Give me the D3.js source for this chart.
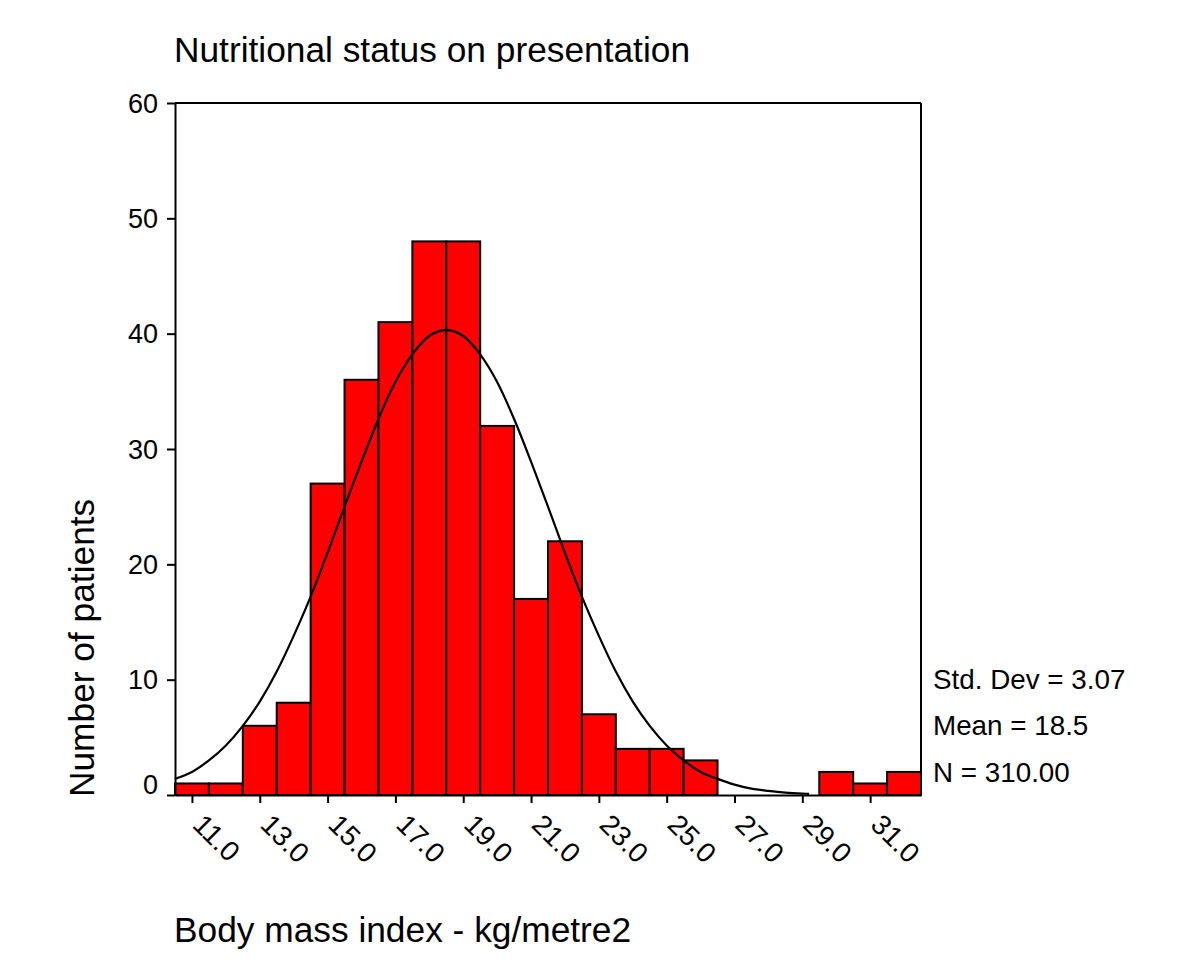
<!DOCTYPE html>
<html>
<head>
<meta charset="utf-8">
<script src="https://cdn.jsdelivr.net/npm/d3@7"></script>
<style>
  html, body { margin: 0; padding: 0; background: #fff; }
  svg { display: block; }
  text { font-family: "Liberation Sans", Arial, Helvetica, sans-serif; fill: #000; }
</style>
</head>
<body>
<svg id="chart" width="1200" height="960"></svg>
<script>
// ---- Data ----
const binStarts = [10.5, 11.5, 12.5, 13.5, 14.5, 15.5, 16.5, 17.5, 18.5, 19.5, 20.5,
                   21.5, 22.5, 23.5, 24.5, 25.5, 26.5, 27.5, 28.5, 29.5, 30.5, 31.5];
const counts    = [1, 1, 6, 8, 27, 36, 41, 48, 48, 32, 17,
                   22, 7, 4, 4, 3, 0, 0, 0, 2, 1, 2];
const binWidth = 1;

// fitted normal curve
const curveX = [10.5, 11, 11.5, 12, 12.5, 13, 13.5, 14, 14.5, 15, 15.5, 16, 16.5, 17, 17.5, 18, 18.5,
                19, 19.5, 20, 20.5, 21, 21.5, 22, 22.5, 23, 23.5, 24, 24.5, 25, 25.5, 26, 26.5,
                27, 27.5, 28, 28.5, 29, 29.2];
const curveY = [1.4, 2.0, 3.0, 4.3, 6.0, 8.1, 10.7, 13.8, 17.2, 21.0, 25.0, 28.9, 32.6, 35.8, 38.2, 39.8, 40.3,
                39.8, 38.2, 35.8, 32.6, 28.9, 25.0, 21.0, 17.2, 13.8, 10.7, 8.1, 6.0, 4.3, 3.0, 2.0, 1.4,
                0.9, 0.55, 0.35, 0.2, 0.12, 0.1];

const xTicks = [11, 13, 15, 17, 19, 21, 23, 25, 27, 29, 31];
const yTicks = [0, 10, 20, 30, 40, 50, 60];

const title = "Nutritional status on presentation";
const xLabel = "Body mass index - kg/metre2";
const yLabel = "Number of patients";
const stats = ["Std. Dev = 3.07", "Mean = 18.5", "N = 310.00"];

// ---- Layout ----
const svg = d3.select("#chart");
const L = 175, R = 921, T = 103, B = 795;

const x = d3.scaleLinear().domain([10.5, 32.5]).range([L, R]);
const y = d3.scaleLinear().domain([0, 60]).range([B, T]);

// bars
svg.append("g")
  .selectAll("rect")
  .data(binStarts.map((s, i) => ({ s, c: counts[i] })).filter(d => d.c > 0))
  .join("rect")
  .attr("x", d => x(d.s))
  .attr("width", d => x(d.s + binWidth) - x(d.s))
  .attr("y", d => y(d.c))
  .attr("height", d => y(0) - y(d.c))
  .attr("fill", "#ff0000")
  .attr("stroke", "#000")
  .attr("stroke-width", 2);

// normal curve
const line = d3.line()
  .x((d, i) => x(curveX[i]))
  .y(d => y(d))
  .curve(d3.curveMonotoneX);
svg.append("path")
  .attr("d", line(curveY))
  .attr("fill", "none")
  .attr("stroke", "#000")
  .attr("stroke-width", 2.2);

// frame top & right
svg.append("line").attr("x1", L).attr("x2", R).attr("y1", T).attr("y2", T)
  .attr("stroke", "#000").attr("stroke-width", 2);
svg.append("line").attr("x1", R).attr("x2", R).attr("y1", T).attr("y2", B)
  .attr("stroke", "#000").attr("stroke-width", 2);

// y axis
const yAxis = svg.append("g")
  .attr("transform", `translate(${L},0)`)
  .call(d3.axisLeft(y).tickValues(yTicks).tickSize(8).tickSizeOuter(0).tickPadding(9));
yAxis.selectAll("path, line").attr("stroke", "#000").attr("stroke-width", 2);
yAxis.selectAll("text")
  .attr("font-size", 27)
  .style("font-family", '"Liberation Sans", Arial, sans-serif')
  .attr("fill", "#000")
  .attr("dy", d => d === 0 ? "-0.05em" : "0.34em");

// x axis
const xAxis = svg.append("g")
  .attr("transform", `translate(0,${B})`)
  .call(d3.axisBottom(x).tickValues(xTicks).tickSize(8).tickSizeOuter(0).tickFormat(d3.format(".1f")));
xAxis.selectAll("path, line").attr("stroke", "#000").attr("stroke-width", 2);
xAxis.selectAll("text")
  .attr("font-size", 28)
  .style("font-family", '"Liberation Sans", Arial, sans-serif')
  .attr("fill", "#000")
  .attr("text-anchor", "start")
  .attr("x", 0).attr("y", 0).attr("dy", "0.72em")
  .attr("transform", "translate(13,17) rotate(45)");

// title
svg.append("text").attr("x", 174).attr("y", 62)
  .attr("font-size", 35.3).text(title);

// x label
svg.append("text").attr("x", 174).attr("y", 942)
  .attr("font-size", 35.3).text(xLabel);

// y label
svg.append("text")
  .attr("transform", "translate(94,797) rotate(-90)")
  .attr("text-anchor", "start")
  .attr("font-size", 35.3).text(yLabel);

// stats
const statY = [689, 735, 782];
svg.append("g").selectAll("text").data(stats).join("text")
  .attr("x", 933).attr("y", (d, i) => statY[i])
  .attr("font-size", 27.8).text(d => d);
</script>
</body>
</html>
